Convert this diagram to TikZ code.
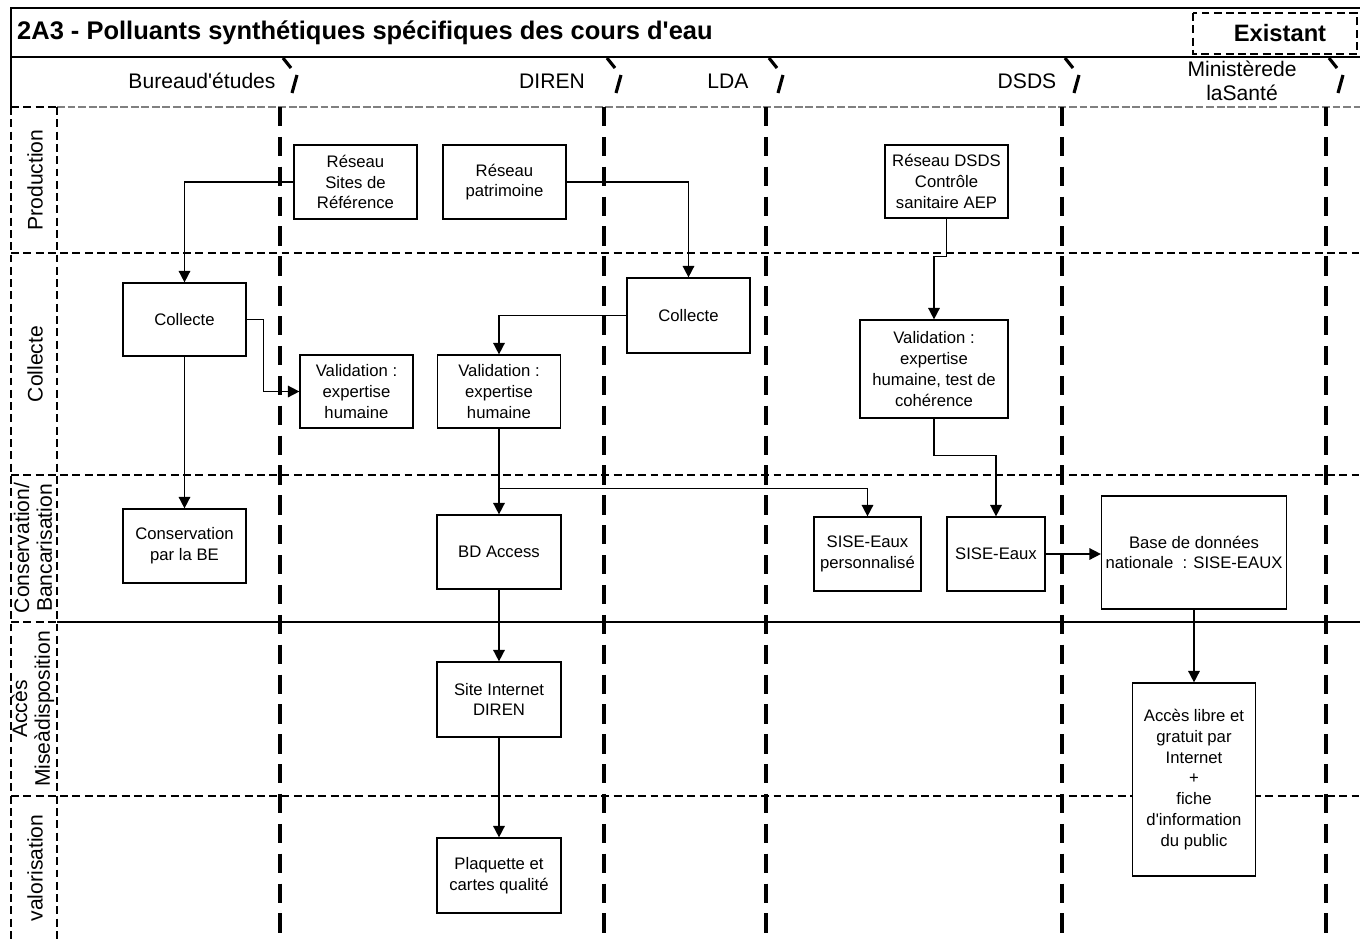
\documentclass[tikz,border=0pt]{standalone}
\usepackage{fontspec}
\setmainfont{Liberation Sans}
\usepackage{tikz}
\usetikzlibrary{arrows.meta,positioning}

\newcommand{\apos}{\textquotesingle}

\tikzset{
  box/.style={draw, fill=white, line width=0.7pt, align=center, inner sep=1pt,
    font=\fontsize{9.5}{11.8}\selectfont},
  flow/.style={line width=0.9pt, -{Triangle[length=6.5pt,width=6.5pt]}},
  lane/.style={line width=2.3pt, dash pattern=on 11pt off 6pt},
  rowline/.style={line width=0.8pt, dash pattern=on 4.5pt off 2.5pt},
  bracket/.style={line width=1.8pt},
  lanelabel/.style={font=\fontsize{12}{13.6}\selectfont, align=center},
  rowlabel/.style={rotate=90, font=\fontsize{12}{13}\selectfont, align=center},
}

\begin{document}
\begin{tikzpicture}[x=0.02cm, y=-0.02cm]
        \useasboundingbox (0,0) rectangle (1360,941);

        % frame, title and header
        \draw[line width=0.8pt] (1360,8) -- (11,8) -- (11,107);
        \draw[line width=0.8pt] (11,57) -- (1360,57);
        \draw[gray, line width=0.8pt, dash pattern=on 4.5pt off 1.5pt] (57,107) -- (1360,107);
        \draw[rowline] (11,107) -- (57,107);

        \node[anchor=west, font=\bfseries\fontsize{14.5}{16}\selectfont] (title) at (11,33) {2A3 - Polluants synthétiques spécifiques des cours d\apos eau};
        \draw[rowline, fill=white] (1193,13) rectangle (1357,54);
        \node[font=\bfseries\fontsize{13.5}{15}\selectfont] (existant) at (1280,33) {Existant};

        % swimlanes
        \draw[rowline] (11,107) -- (11,941);
        \draw[rowline] (57,107) -- (57,941);
        \foreach \y in {253,475,796} \draw[rowline] (11,\y) -- (1360,\y);
        \draw[rowline] (11,622) -- (57,622);
        \draw[line width=0.8pt] (57,622) -- (1360,622);

        \foreach \x in {280,604,766,1062,1326} {
            \draw[lane] (\x,107) -- (\x,941);
            \draw[bracket] (\x+3,58) -- (\x+11,68);
            \draw[bracket] (\x+17,75) -- (\x+12,93);
        }

        \node[lanelabel] (be) at (202,81) {Bureaud\apos études};
        \node[lanelabel] (diren) at (552,81) {DIREN};
        \node[lanelabel] (lda) at (728,81) {LDA};
        \node[lanelabel] (dsds) at (1027,81) {DSDS};
        \node[lanelabel] (ministere) at (1242,81) {Ministèrede\\laSanté};

        \node[rowlabel] (lprod) at (35,180) {Production};
        \node[rowlabel] (lcoll) at (35,364) {Collecte};
        \node[rowlabel] (lcons) at (33,548) {Conservation/\\Bancarisation};
        \node[rowlabel] (lacces) at (33,709) {Accès\\Miseàdisposition};
        \node[rowlabel] (lvalo) at (35,868) {valorisation};

        % boxes
        \node[box, minimum width=2.46cm, minimum height=1.48cm] (rsr) at (355.5,182) {Réseau\\Sites de\\Référence};
        \node[box, minimum width=2.46cm, minimum height=1.48cm] (rpat) at (504.5,182) {Réseau\\patrimoine};
        \node[box, minimum width=2.46cm, minimum height=1.46cm] (rdsds) at (946.5,181.5) {Réseau DSDS\\Contrôle\\sanitaire AEP};
        \node[box, minimum width=2.46cm, minimum height=1.46cm] (colbe) at (184.5,319.5) {Collecte};
        \node[box, minimum width=2.46cm, minimum height=1.5cm] (collda) at (688.5,315.5) {Collecte};
        \node[box, minimum width=2.26cm, minimum height=1.46cm] (valbe) at (356.5,391.5) {Validation :\\expertise\\humaine};
        \node[box, minimum width=2.46cm, minimum height=1.46cm] (valdir) at (499,391.5) {Validation :\\expertise\\humaine};
        \node[box, minimum width=2.96cm, minimum height=1.96cm] (valdsds) at (934,369) {Validation :\\expertise\\humaine, test de\\cohérence};
        \node[box, minimum width=2.46cm, minimum height=1.48cm] (consbe) at (184.5,546) {Conservation\\par la BE};
        \node[box, minimum width=2.48cm, minimum height=1.48cm] (bdacc) at (499,552) {BD Access};
        \node[box, minimum width=2.14cm, minimum height=1.48cm] (sisep) at (867.5,554) {SISE-Eaux\\personnalisé};
        \node[box, minimum width=1.96cm, minimum height=1.48cm] (sise) at (996,554) {SISE-Eaux};
        \node[box, minimum width=3.7cm, minimum height=2.26cm] (bdnat) at (1194,552.5) {Base de données\\nationale\ \ : SISE-EAUX};
        \node[box, minimum width=2.48cm, minimum height=1.5cm] (site) at (499,699.5) {Site Internet\\DIREN};
        \node[box, minimum width=2.46cm, minimum height=3.86cm] (acces) at (1194,779.5) {Accès libre et\\gratuit par\\Internet\\+\\fiche\\d\apos information\\du public};
        \node[box, minimum width=2.48cm, minimum height=1.5cm] (plaq) at (499,875.5) {Plaquette et\\cartes qualité};

        % flows
        \draw[flow] (rsr.west) -| (colbe.north);
        \draw[flow] (rpat.east) -| (collda.north);
        \draw[flow] (rdsds.south) -- ++(0,38) -| (valdsds.north);
        \draw[flow] (colbe.east) -- ++(17,0) |- (valbe.west);
        \draw[flow] (colbe.south) -- (consbe.north);
        \draw[flow] (collda.west) -| (valdir.north);
        \draw[flow] (valdir.south) -- (bdacc.north);
        \draw[flow] (valdir.south) ++(0,60) -| (sisep.north);
        \draw[flow] (valdsds.south) -- ++(0,37) -| (sise.north);
        \draw[flow] (sise.east) -- (sise.east -| bdnat.west);
        \draw[flow] (bdacc.south) -- (site.north);
        \draw[flow] (site.south) -- (plaq.north);
        \draw[flow] (bdnat.south) -- (acces.north);
\end{tikzpicture}
\end{document}
